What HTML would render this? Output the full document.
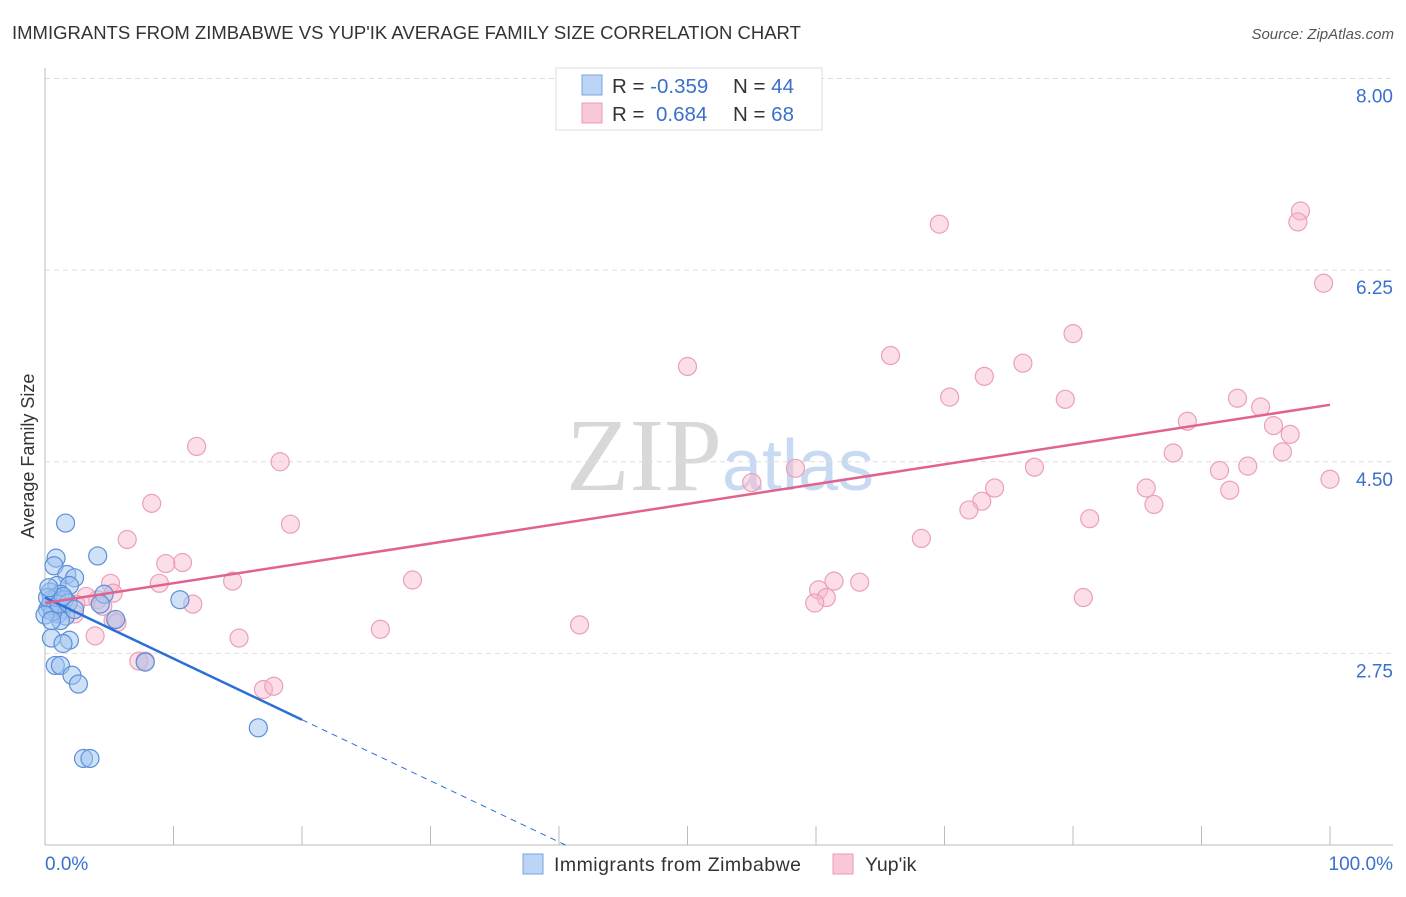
<!DOCTYPE html>
<html><head><meta charset="utf-8"><style>
body{margin:0;background:#fff;font-family:"Liberation Sans",sans-serif}
svg text{font-family:"Liberation Sans",sans-serif}
</style></head><body>
<svg id="c" width="1406" height="892" xmlns="http://www.w3.org/2000/svg">
<text x="12" y="39" font-size="18.5" fill="#333">IMMIGRANTS FROM ZIMBABWE VS YUP'IK AVERAGE FAMILY SIZE CORRELATION CHART</text>
<text x="1394" y="39" font-size="15" fill="#555" text-anchor="end" font-style="italic">Source: ZipAtlas.com</text>
<text x="720" y="490" font-size="104" text-anchor="middle" fill="#ddd" font-family="Liberation Serif"><tspan font-family="Liberation Serif" fill="#d8d8d8">ZIP</tspan><tspan font-family="Liberation Sans" fill="#c8daf2" font-size="72">atlas</tspan></text>
<g id="grid"></g><g id="axes"></g><g id="pts"></g><g id="lines"></g>
<text transform="translate(34,456) rotate(-90)" font-size="18" fill="#333" text-anchor="middle">Average Family Size</text>
<g>
<rect x="556" y="68" width="266" height="62" fill="#fff" stroke="#ddd"/>
<rect x="582" y="75" width="20" height="20" fill="#bcd4f6" stroke="#7aa5e0"/>
<rect x="582" y="103" width="20" height="20" fill="#f9c8d6" stroke="#ec9ab4"/>
<text x="612" y="93" font-size="20.5" fill="#333">R = <tspan fill="#3a70cc">-0.359</tspan><tspan x="733">N = </tspan><tspan fill="#3a70cc">44</tspan></text>
<text x="612" y="121" font-size="20.5" fill="#333">R = <tspan fill="#3a70cc" x="656">0.684</tspan><tspan x="733">N = </tspan><tspan fill="#3a70cc">68</tspan></text>
</g>
<g>
<rect x="523" y="854" width="20" height="20" fill="#bcd4f6" stroke="#7aa5e0"/>
<text x="554" y="871" font-size="19.5" fill="#333" textLength="247">Immigrants from Zimbabwe</text>
<rect x="833" y="854" width="20" height="20" fill="#f9c8d6" stroke="#ec9ab4"/>
<text x="865" y="871" font-size="19.5" fill="#333">Yup'ik</text>
</g>
</svg>
<script>
const yTicks=[2.75,4.50,6.25,8.00];
const yTickLabels=["2.75","4.50","6.25","8.00"];
const xTicks=[0,10,20,30,40,50,60,70,80,90,100];
const blueX=[1.6,0.86,4.1,0.7,1.7,2.3,0.93,1.9,4.6,0.4,1.2,4.3,10.5,0.5,0.8,0.2,1.3,1.0,1.6,5.5,1.2,0.5,1.9,1.4,0.8,1.2,2.1,2.6,7.8,16.6,3.0,3.5,0.4,0.6,0.9,1.5,0.2,1.1,0,1.8,0.5,1.4,0.3,2.3];
const blueY=[3.94,3.62,3.64,3.55,3.47,3.44,3.37,3.37,3.29,3.31,3.29,3.20,3.24,3.24,3.18,3.15,3.15,3.11,3.09,3.06,3.05,2.89,2.87,2.84,2.64,2.64,2.55,2.47,2.67,2.07,1.79,1.79,3.19,3.13,3.26,3.24,3.26,3.20,3.10,3.21,3.05,3.27,3.35,3.15];
const pinkX=[69.6,97.7,97.5,99.5,80.0,65.8,50.0,76.1,73.1,70.4,79.4,92.8,94.6,88.9,95.6,96.9,96.3,87.8,11.8,18.3,58.4,77.0,93.6,91.4,100,55.0,73.9,85.7,92.2,72.9,71.9,86.3,8.3,19.1,81.3,68.2,6.4,10.7,9.4,5.1,8.9,14.6,28.6,61.4,63.4,60.2,60.8,59.9,80.8,11.5,4.1,3.2,5.3,2.4,4.5,2.3,5.3,5.6,3.9,15.1,26.1,41.6,7.3,7.8,17.0,17.8,1.2,0.8];
const pinkY=[6.67,6.79,6.69,6.13,5.67,5.47,5.37,5.40,5.28,5.09,5.07,5.08,5.00,4.87,4.83,4.75,4.59,4.58,4.64,4.50,4.44,4.45,4.46,4.42,4.34,4.31,4.26,4.26,4.24,4.14,4.06,4.11,4.12,3.93,3.98,3.80,3.79,3.58,3.57,3.39,3.39,3.41,3.42,3.41,3.40,3.33,3.26,3.21,3.26,3.20,3.24,3.27,3.30,3.20,3.18,3.11,3.05,3.03,2.91,2.89,2.97,3.01,2.68,2.68,2.42,2.45,3.26,3.15];
const blueTrend=[3.26,-0.0558];
const pinkTrend=[3.21,0.0181];
const NS="http://www.w3.org/2000/svg";
const X=v=>45+v*12.85, Y=v=>845-(v-1)*109.5;
function mk(t,a,p){const e=document.createElementNS(NS,t);for(const k in a)e.setAttribute(k,a[k]);document.getElementById(p).appendChild(e);return e;}
yTicks.forEach((t,i)=>{
 const g=mk('line',{x1:45,x2:1393,y1:Y(t),y2:Y(t),stroke:'#ddd','stroke-dasharray':'5,4'},'grid');
 
 
 const l=mk('text',{x:1393,y:Y(t)+24,'font-size':19,fill:'#3a70cc','text-anchor':'end'},'axes');
 l.textContent=yTickLabels[i];
 
 
});
const ax=mk('line',{x1:45,x2:45,y1:68,y2:845,stroke:'#bbb'},'axes');


const bx=mk('line',{x1:45,x2:1393,y1:845,y2:845,stroke:'#bbb'},'axes');


xTicks.forEach(t=>{const e=mk('line',{x1:X(t),x2:X(t),y1:826,y2:845,stroke:'#bbb'},'axes');
 
 });
let t0=mk('text',{x:45,y:870,'font-size':19,fill:'#3a70cc'},'axes');t0.textContent='0.0%';


let t1=mk('text',{x:1393,y:870,'font-size':19,fill:'#3a70cc','text-anchor':'end'},'axes');t1.textContent='100.0%';


pinkX.forEach((x,i)=>{const c=mk('circle',{cx:X(x),cy:Y(pinkY[i]),r:9,fill:'rgba(248,182,204,0.45)',stroke:'#eaa0b8','stroke-width':1.2},'pts');
 
 });
blueX.forEach((x,i)=>{const c=mk('circle',{cx:X(x),cy:Y(blueY[i]),r:9,fill:'rgba(160,196,240,0.5)',stroke:'#5b8fd9','stroke-width':1.2},'pts');
 
 });
const bf=x=>blueTrend[0]+blueTrend[1]*x, pf=x=>pinkTrend[0]+pinkTrend[1]*x;
const bEnd=(1-blueTrend[0])/blueTrend[1];
let l1=mk('line',{x1:X(0),y1:Y(bf(0)),x2:X(20),y2:Y(bf(20)),stroke:'#2a6fd6','stroke-width':2.5},'lines');


let l2=mk('line',{x1:X(20),y1:Y(bf(20)),x2:X(bEnd),y2:Y(bf(bEnd)),stroke:'#2a6fd6','stroke-width':1,'stroke-dasharray':'6,5'},'lines');


let l3=mk('line',{x1:X(0),y1:Y(pf(0)),x2:X(100),y2:Y(pf(100)),stroke:'#e0628e','stroke-width':2.5},'lines');


</script>
</body></html>
